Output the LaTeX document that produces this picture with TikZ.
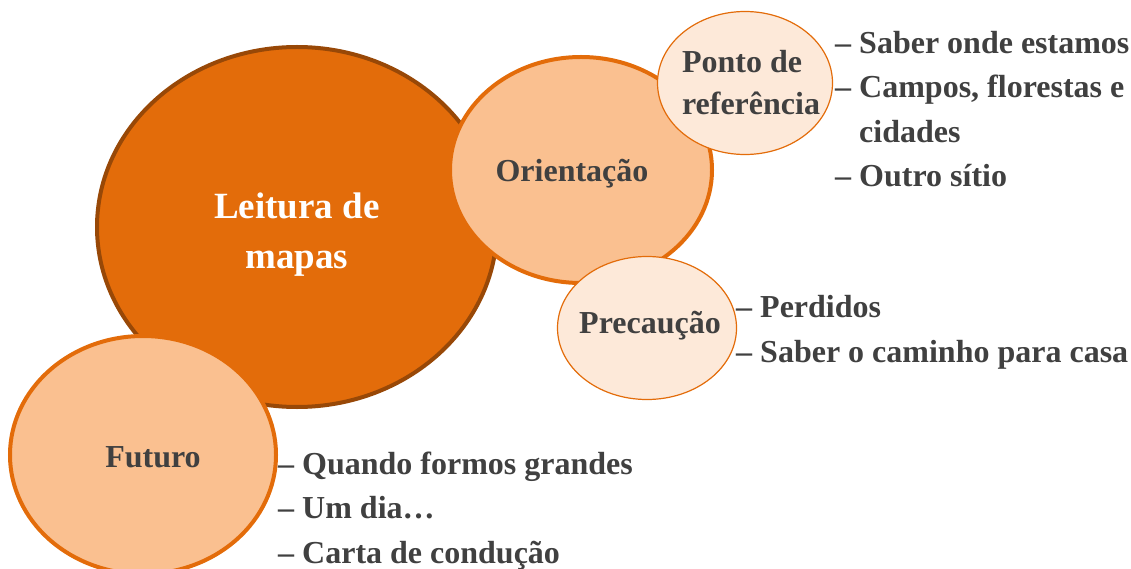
\documentclass[tikz,border=0pt]{standalone}
\usepackage{fontspec}
\setmainfont{Liberation Serif}
\usetikzlibrary{shapes.geometric}

\definecolor{orangedark}{HTML}{E36C0A}
\definecolor{orangemid}{HTML}{FAC090}
\definecolor{orangelight}{HTML}{FDE9D9}
\definecolor{brownrim}{HTML}{984807}
\definecolor{textgray}{HTML}{404040}

\tikzset{
    bubble/.style={ellipse, inner sep=0pt},
    bigbubble/.style={bubble, fill=orangedark, draw=brownrim, line width=4pt},
    midbubble/.style={bubble, fill=orangemid, draw=orangedark, line width=4pt},
    smallbubble/.style={bubble, fill=orangelight, draw=orangedark, line width=1.2pt},
    topic/.style={text=textgray, font=\fontsize{32}{42}\selectfont\bfseries, inner sep=0pt},
    notes/.style={topic, anchor=base west, align=left, font=\fontsize{32}{44.5}\selectfont\bfseries}
}

\begin{document}
\begin{tikzpicture}[x=1pt,y=-1pt]
        \useasboundingbox (0,0) rectangle (1131,569);

        % Main circle
        \node[bigbubble, minimum width=400pt, minimum height=360pt] (leitura) at (297,227) {};
        \node[topic, text=white, align=center, font=\fontsize{37}{50}\selectfont\bfseries]
            (leitura-t) at (297,235) {Leitura de\\mapas};

        % Orientacao and its two sub-circles
        \node[midbubble, minimum width=262pt, minimum height=226pt] (orient) at (581,170) {};
        \node[topic] (orient-t) at (572,174) {Orientação};

        \node[smallbubble, minimum width=175pt, minimum height=143pt] (ponto) at (745,83) {};
        \node[topic, align=left] (ponto-t) at (751,83) {Ponto de\\referência};

        \node[smallbubble, minimum width=179pt, minimum height=143pt] (precau) at (647,328) {};
        \node[topic] (precau-t) at (650,326) {Precaução};

        % Futuro
        \node[midbubble, minimum width=266pt, minimum height=238pt] (futuro) at (143,455) {};
        \node[topic] (futuro-t) at (153,457) {Futuro};

        % Notes beside the circles (base = last line)
        \node[notes] (ponto-n) at (835,187)
            {– Saber onde estamos\\– Campos, florestas e\\\phantom{– }cidades\\– Outro sítio};
        \node[notes] (precau-n) at (736,362)
            {– Perdidos\\– Saber o caminho para casa};
        \node[notes] (futuro-n) at (278,563)
            {– Quando formos grandes\\– Um dia…\\– Carta de condução};
\end{tikzpicture}
\end{document}
